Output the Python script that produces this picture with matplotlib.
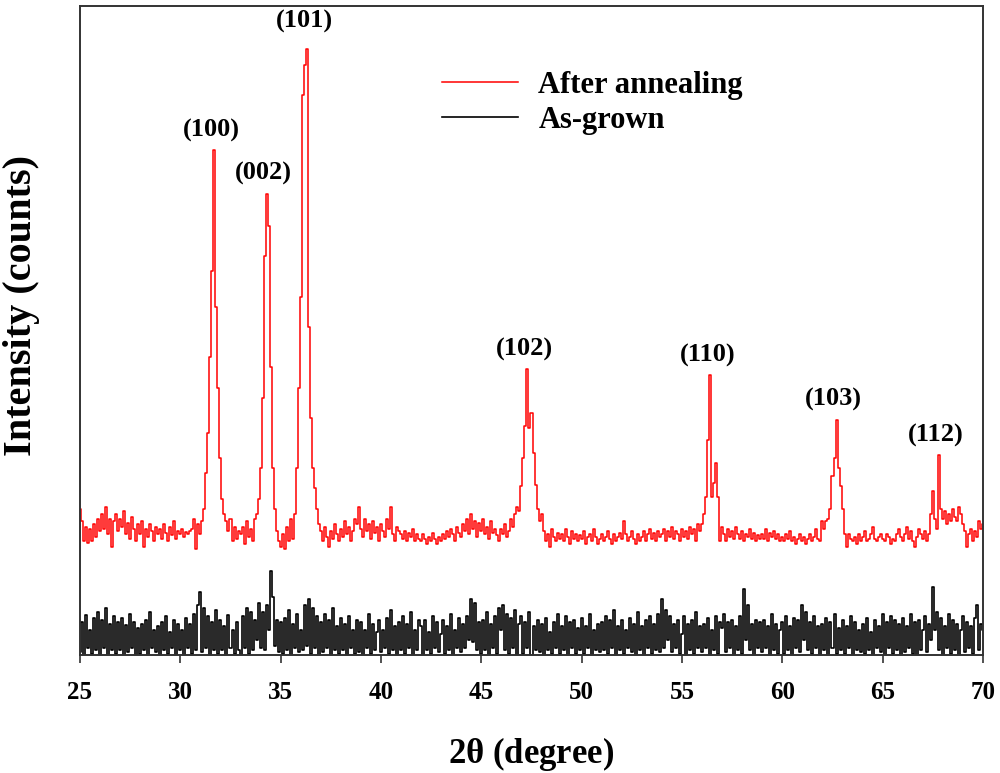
import matplotlib
matplotlib.use("Agg")
import matplotlib.pyplot as plt
import numpy as np

# 2theta sampling grid, 0.1 deg step
two_theta = np.round(np.arange(25.0, 70.05, 0.1), 1)

# annealed film (offset trace), one row per degree
after_annealing = np.array([
    150, 138, 118, 132, 116, 130, 118, 135, 122, 140,   # 25
    128, 145, 130, 152, 125, 140, 112, 138, 145, 128,   # 26
    140, 132, 148, 125, 136, 120, 142, 130, 118, 135,   # 27
    125, 138, 112, 130, 122, 135, 128, 118, 132, 125,   # 28
    130, 120, 135, 126, 118, 132, 124, 138, 120, 128,   # 29
    125, 130, 122, 127, 125, 128, 130, 140, 110, 135,   # 30
    125, 138, 150, 185, 225, 300, 385, 505, 350, 270,   # 31
    200, 160, 145, 138, 128, 140, 118, 132, 120, 128,   # 32
    125, 132, 115, 138, 122, 130, 118, 140, 145, 160,   # 33
    190, 260, 400, 462, 430, 290, 190, 150, 128, 118,   # 34
    112, 125, 110, 132, 118, 140, 120, 145, 190, 270,   # 35
    360, 560, 590, 605, 330, 240, 190, 170, 150, 135,   # 36
    128, 118, 132, 122, 112, 128, 120, 135, 125, 118,   # 37
    130, 122, 138, 125, 132, 118, 128, 140, 135, 152,   # 38
    130, 122, 140, 128, 135, 120, 138, 126, 132, 118,   # 39
    135, 128, 122, 140, 130, 152, 125, 118, 132, 128,   # 40
    125, 120, 128, 118, 126, 122, 130, 118, 125, 120,   # 41
    118, 125, 120, 115, 122, 118, 126, 120, 115, 122,   # 42
    118, 125, 120, 128, 122, 130, 125, 118, 132, 126,   # 43
    122, 135, 128, 140, 125, 145, 130, 138, 122, 136,   # 44
    128, 140, 125, 132, 120, 138, 126, 130, 124, 118,   # 45
    130, 125, 135, 122, 128, 140, 132, 145, 152, 148,   # 46
    172, 200, 232, 288, 230, 245, 205, 173, 150, 138,   # 47
    145, 128, 118, 125, 112, 130, 122, 118, 126, 120,   # 48
    125, 118, 130, 122, 115, 128, 120, 125, 118, 124,   # 49
    120, 128, 115, 122, 125, 118, 130, 122, 115, 120,   # 50
    125, 118, 122, 128, 120, 115, 125, 118, 122, 126,   # 51
    120, 138, 125, 118, 122, 128, 120, 115, 125, 118,   # 52
    122, 128, 118, 125, 130, 120, 126, 118, 128, 122,   # 53
    125, 130, 118, 128, 122, 132, 120, 128, 125, 118,   # 54
    130, 122, 128, 120, 132, 125, 130, 118, 135, 128,   # 55
    135, 145, 162, 218, 282, 162, 175, 195, 162, 118,   # 56
    132, 125, 118, 130, 122, 128, 120, 132, 125, 120,   # 57
    128, 118, 125, 122, 130, 120, 126, 118, 124, 120,   # 58
    125, 120, 130, 118, 126, 122, 128, 120, 125, 118,   # 59
    122, 118, 125, 120, 128, 118, 122, 115, 120, 125,   # 60
    118, 122, 115, 120, 125, 118, 122, 130, 120, 118,   # 61
    138, 130, 138, 140, 150, 182, 200, 238, 190, 172,   # 62
    150, 125, 112, 125, 120, 118, 122, 115, 125, 118,   # 63
    122, 128, 118, 120, 125, 132, 120, 118, 122, 125,   # 64
    120, 118, 125, 122, 115, 120, 118, 125, 130, 122,   # 65
    118, 125, 132, 120, 128, 118, 112, 122, 130, 125,   # 66
    120, 128, 118, 125, 145, 167, 140, 130, 203, 150,   # 67
    140, 148, 135, 145, 138, 150, 142, 138, 152, 145,   # 68
    135, 128, 112, 125, 130, 118, 128, 122, 138, 130,   # 69
    135,                                                # 70
])

# as-grown film (bottom trace)
as_grown = np.array([
    8, 38, 4, 45, 12, 30, 6, 42, 10, 48,      # 25
    5, 40, 12, 52, 3, 36, 10, 44, 6, 38,      # 26
    10, 42, 4, 35, 8, 46, 12, 38, 2, 32,      # 27
    6, 36, 10, 40, 4, 48, 12, 30, 8, 34,      # 28
    3, 38, 10, 44, 6, 28, 12, 40, 5, 36,      # 29
    10, 30, 4, 42, 12, 36, 6, 46, 10, 55,     # 30
    67, 8, 52, 12, 44, 4, 38, 10, 50, 6,      # 31
    40, 10, 34, 4, 45, 12, 30, 6, 38, 10,     # 32
    4, 44, 12, 52, 6, 48, 10, 40, 20, 56,     # 33
    12, 48, 10, 55, 30, 88, 62, 14, 40, 8,    # 34
    38, 6, 42, 10, 50, 4, 36, 12, 46, 8,      # 35
    30, 10, 55, 14, 60, 6, 52, 12, 44, 4,     # 36
    38, 8, 46, 12, 40, 4, 52, 10, 34, 6,      # 37
    42, 10, 36, 4, 44, 12, 30, 6, 40, 8,      # 38
    38, 4, 30, 12, 46, 6, 36, 10, 28, 40,     # 39
    8, 30, 12, 42, 6, 50, 10, 34, 4, 38,      # 40
    10, 44, 6, 36, 12, 48, 4, 30, 10, 40,     # 41
    34, 4, 40, 10, 28, 6, 44, 12, 38, 8,      # 42
    26, 40, 6, 34, 10, 46, 4, 30, 12, 42,     # 43
    8, 36, 12, 44, 20, 60, 18, 56, 10, 38,    # 44
    6, 40, 10, 48, 4, 36, 12, 44, 6, 52,      # 45
    30, 55, 10, 46, 6, 42, 12, 50, 4, 36,     # 46
    44, 6, 38, 12, 48, 4, 34, 10, 40, 8,      # 47
    36, 4, 42, 10, 28, 6, 38, 12, 46, 6,      # 48
    34, 10, 44, 4, 38, 12, 40, 6, 32, 10,     # 49
    42, 6, 34, 12, 46, 4, 30, 10, 36, 8,      # 50
    38, 10, 44, 6, 40, 12, 50, 4, 34, 10,     # 51
    40, 6, 30, 12, 42, 8, 36, 4, 48, 10,      # 52
    34, 4, 40, 12, 44, 6, 36, 10, 46, 8,      # 53
    60, 12, 50, 20, 44, 8, 36, 12, 40, 6,     # 54
    26, 44, 4, 36, 10, 40, 6, 48, 12, 34,     # 55
    8, 36, 12, 42, 4, 30, 10, 44, 6, 38,      # 56
    32, 46, 8, 38, 12, 40, 4, 34, 10, 44,     # 57
    6, 70, 20, 55, 10, 36, 4, 40, 12, 38,     # 58
    8, 40, 12, 34, 4, 46, 10, 36, 6, 30,      # 59
    38, 6, 44, 10, 34, 4, 42, 12, 40, 8,      # 60
    55, 20, 48, 10, 38, 6, 44, 12, 34, 4,     # 61
    36, 10, 42, 4, 38, 12, 46, 6, 32, 10,     # 62
    40, 6, 34, 12, 44, 4, 38, 10, 30, 8,      # 63
    36, 6, 42, 10, 28, 4, 40, 12, 34, 8,      # 64
    46, 4, 38, 12, 44, 6, 40, 10, 36, 4,      # 65
    42, 8, 34, 12, 46, 6, 38, 4, 40, 10,      # 66
    30, 44, 8, 36, 20, 72, 30, 48, 10, 42,    # 67
    4, 34, 12, 46, 6, 40, 10, 36, 4, 30,      # 68
    44, 8, 38, 12, 34, 6, 42, 55, 10, 36,     # 69
    30,                                       # 70
])

peak_labels = ["(100)", "(002)", "(101)", "(102)", "(110)", "(103)", "(112)"]
peak_angles = [31.7, 34.3, 36.3, 47.3, 56.4, 62.7, 67.8]

plt.rcParams['font.family'] = ['Liberation Serif', 'DejaVu Serif']
plt.rcParams['font.weight'] = 'bold'

fig = plt.figure(figsize=(10, 7.73), dpi=100)
ax = fig.add_axes([0.08, 0.1527, 0.903, 0.8395])

ax.plot(two_theta, after_annealing, color='red', lw=1.1, drawstyle='steps-mid',
        label='After annealing')
ax.plot(two_theta, as_grown, color='black', lw=1.2, drawstyle='steps-mid',
        label='As-grown')

for lab, ang in zip(peak_labels, peak_angles):
    i = int(np.argmin(np.abs(two_theta - ang)))
    off = 12 if lab == "(101)" else 6
    ax.annotate(lab, xy=(two_theta[i], after_annealing[i]), xytext=(-2, off),
                textcoords='offset points', ha='center', va='bottom',
                fontsize=19, fontweight='bold', annotation_clip=False)

ax.set_xlim(25, 70)
ax.set_ylim(5, 648)
ax.set_xticks(np.arange(25, 71, 5))
ax.set_yticks([])
ax.tick_params(axis='x', direction='out', length=6, width=1.2, pad=13,
               labelsize=18, color='#333333')
for sp in ax.spines.values():
    sp.set_linewidth(1.4)
    sp.set_color('#333333')

ax.set_xlabel(r'2$\mathregular{\theta}$ (degree)', fontsize=25, fontweight='bold',
              labelpad=22)
ax.set_ylabel('Intensity (counts)', fontsize=29, fontweight='bold')
ax.yaxis.set_label_coords(-0.044, 0.539)

ax.legend(loc='upper left', bbox_to_anchor=(0.401, 0.9), frameon=False,
          fontsize=22, handlelength=2.5, handletextpad=0.65, labelspacing=0.2,
          borderpad=0, borderaxespad=0)

fig.savefig("out.png", dpi=100)
